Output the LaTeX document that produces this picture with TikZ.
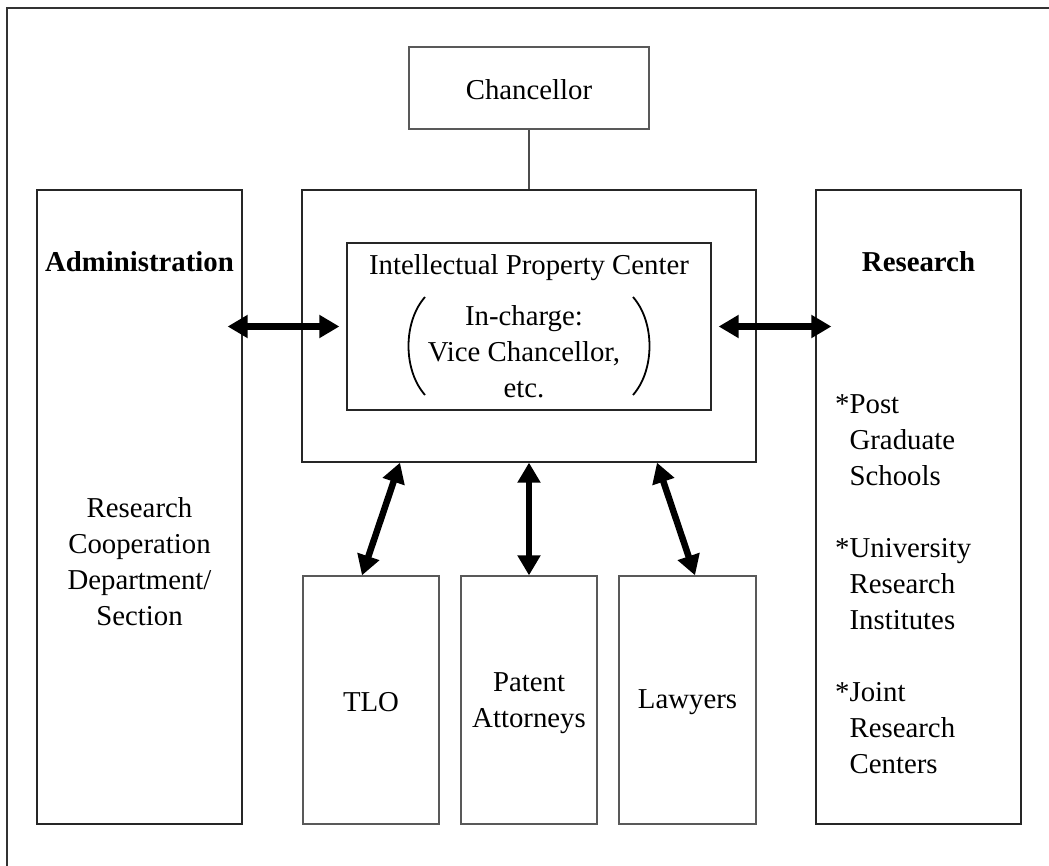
\documentclass[tikz,border=0pt]{standalone}
\usepackage{fontspec}
\setmainfont{Liberation Serif}
\usetikzlibrary{arrows.meta,calc}
\begin{document}
\begin{tikzpicture}[x=1pt,y=-1pt,
  every node/.style={font=\fontsize{28.8}{36}\selectfont, inner sep=0pt},
  box/.style={draw=black!85, line width=1.3pt},
  graybox/.style={draw=black!65, line width=1.3pt},
  lbl/.style={align=center},
  biarrow/.style={line width=6.5pt, {Triangle[length=20pt,width=22pt]}-{Triangle[length=20pt,width=22pt]}},
  paren/.style={line width=1.8pt},
  border/.style={line width=2pt, draw=black!80}]
\useasboundingbox (0,0) rectangle (1049,866);
% outer border (top and left only)
\draw[border] (7,866) -- (7,8) -- (1049,8);
% boxes
\node[graybox, minimum width=240pt, minimum height=82pt] (chan) at (529,88) {};
\node at (529,90) (chantxt) {Chancellor};
\node[box, minimum width=454pt, minimum height=272pt] (ipc) at (529,326) {};
\node[box, minimum width=364pt, minimum height=167pt] (inner) at (529,326.5) {};
\node[box, minimum width=205pt, minimum height=634pt] (adm) at (139.5,507) {};
\node[box, minimum width=205pt, minimum height=634pt] (res) at (918.5,507) {};
\node[graybox, minimum width=136pt, minimum height=248pt] (tlo) at (371,700) {};
\node[graybox, minimum width=136pt, minimum height=248pt] (pat) at (529,700) {};
\node[graybox, minimum width=137pt, minimum height=248pt] (law) at (687.5,700) {};
% texts
\node[font=\fontsize{28.8}{36}\selectfont\bfseries] (admtitle) at (139.5,262) {Administration};
\node[font=\fontsize{28.8}{36}\selectfont\bfseries] (restitle) at (918.5,262) {Research};
\node[lbl] (admtxt) at (139.5,562) {Research\\Cooperation\\Department/\\Section};
\node[align=left, anchor=west] (restxt) at (835,584) {*Post\\\hphantom{*}Graduate\\\hphantom{*}Schools\\[36pt]*University\\\hphantom{*}Research\\\hphantom{*}Institutes\\[36pt]*Joint\\\hphantom{*}Research\\\hphantom{*}Centers};
\node (ipctitle) at (529,268) {Intellectual Property Center};
\node[lbl] (ipcsub) at (524,352) {In-charge:\\Vice Chancellor,\\etc.};
\node (tlotxt) at (371,702) {TLO};
\node[lbl] (pattxt) at (529,703) {Patent\\Attorneys};
\node (lawtxt) at (687.5,702) {Lawyers};
% parentheses
\draw[paren] (425,297) .. controls (403,322) and (403,370) .. (425,395);
\draw[paren] (633,297) .. controls (655,322) and (655,370) .. (633,395);
% connectors
\draw[line width=1.2pt, draw=black!70] (chan.south) -- (ipc.north);
\coordinate (al) at ($(adm.east |- inner.west)+(-15,0)$);
\coordinate (ar) at ($(inner.west)+(-7,0)$);
\coordinate (bl) at ($(inner.east)+(7,0)$);
\coordinate (br) at ($(res.west |- inner.east)+(16,0)$);
\draw[biarrow] (al) -- (ar);
\draw[biarrow] (bl) -- (br);
\coordinate (t1) at ($(ipc.south)+(-129,0)$);
\coordinate (t2) at ($(tlo.north)+(-9,0)$);
\coordinate (l1) at ($(ipc.south)+(128,0)$);
\coordinate (l2) at ($(law.north)+(7.5,0)$);
\draw[biarrow] (t1) -- (t2);
\draw[biarrow] (ipc.south) -- (pat.north);
\draw[biarrow] (l1) -- (l2);
\end{tikzpicture}
\end{document}
